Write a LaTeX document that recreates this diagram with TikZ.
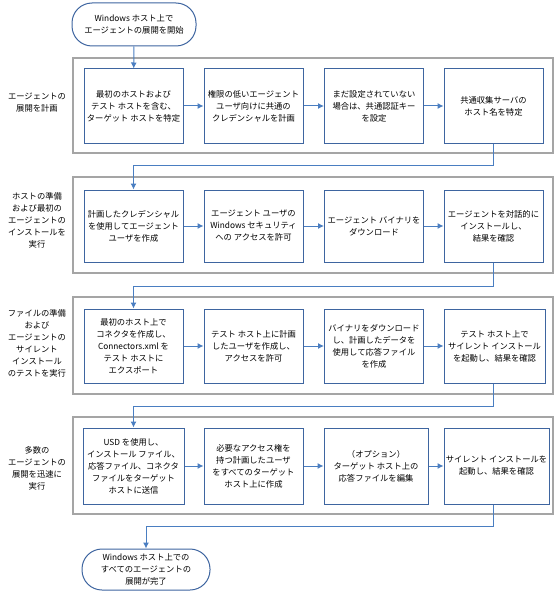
\documentclass[tikz,border=0pt]{standalone}
\usepackage{fontspec}
\setmainfont{Noto Sans CJK JP}
\usetikzlibrary{arrows.meta}

\definecolor{boxblue}{RGB}{62,101,160}
\definecolor{linkblue}{RGB}{74,126,193}
\definecolor{grpgray}{RGB}{165,165,165}

\tikzset{
  every node/.style={font=\fontsize{8.3}{12}\selectfont, align=center, inner sep=1pt},
  stepbox/.style={draw=boxblue, line width=1pt, fill=white, minimum width=99pt, minimum height=74pt},
  termbox/.style={draw=boxblue, line width=1pt, fill=white, rounded corners=20pt},
  grpbox/.style={draw=grpgray, line width=1.2pt},
  flow/.style={draw=linkblue, line width=1pt, -{Latex[length=6pt,width=6pt]}}
}

\begin{document}
\begin{tikzpicture}[x=1pt, y=-1pt]
            \useasboundingbox (0,0) rectangle (559,591);
            % groups
            \draw[grpbox] (73,58) rectangle (553,153);
            \draw[grpbox] (73,177) rectangle (553,273);
            \draw[grpbox] (73,297) rectangle (553,394);
            \draw[grpbox] (73,417) rectangle (553,514);
            \node (g1) at (37,103) {エージェントの\\展開を計画};
            \node (g2) at (37,220) {ホストの準備\\および最初の\\エージェントの\\インストールを\\実行};
            \node (g3) at (37,343) {ファイルの準備\\および\\エージェントの\\サイレント\\インストール\\のテストを実行};
            \node (g4) at (37,468) {多数の\\エージェントの\\展開を迅速に\\実行};
            % start and end
            \node[termbox, minimum width=124pt, minimum height=43pt] (start) at (134,24.5) {Windows ホスト上で\\エージェントの展開を開始};
            \node[termbox, minimum width=128pt, minimum height=41pt] (finish) at (146,569.5) {Windows ホスト上での\\すべてのエージェントの\\展開が完了};
            % row 1
            \node[stepbox] (p11) at (133.5,106) {最初のホストおよび\\テスト ホストを含む、\\ターゲット ホストを特定};
            \node[stepbox] (p12) at (253.5,106) {権限の低いエージェント\\ユーザ向けに共通の\\クレデンシャルを計画};
            \node[stepbox] (p13) at (374,106) {まだ設定されていない\\場合は、共通認証キー\\を設定};
            \node[stepbox] (p14) at (493.5,106) {共通収集サーバの\\ホスト名を特定};
            % row 2
            \node[stepbox, minimum height=72pt] (p21) at (133.5,226) {計画したクレデンシャル\\を使用してエージェント\\ユーザを作成};
            \node[stepbox, minimum height=72pt] (p22) at (253.5,226) {エージェント ユーザの\\Windows セキュリティ\\への アクセスを許可};
            \node[stepbox, minimum height=72pt] (p23) at (374,226) {エージェント バイナリを\\ダウンロード};
            \node[stepbox, minimum height=72pt] (p24) at (493.5,226) {エージェントを対話的に\\インストールし、\\結果を確認};
            % row 3
            \node[stepbox] (p31) at (133.5,346) {最初のホスト上で\\コネクタを作成し、\\Connectors.xml を\\テスト ホストに\\エクスポート};
            \node[stepbox] (p32) at (253.5,346) {テスト ホスト上に計画\\したユーザを作成し、\\アクセスを許可};
            \node[stepbox] (p33) at (374,346) {バイナリをダウンロード\\し、計画したデータを\\使用して応答ファイル\\を作成};
            \node[stepbox, minimum width=101pt] (p34) at (494.5,346) {テスト ホスト上で\\サイレント インストール\\を起動し、結果を確認};
            % row 4
            \node[stepbox, minimum width=101pt, minimum height=76pt] (p41) at (133.5,466) {USD を使用し、\\インストール ファイル、\\応答ファイル、コネクタ\\ファイルをターゲット\\ホストに送信};
            \node[stepbox, minimum width=99pt, minimum height=76pt] (p42) at (253.5,466) {必要なアクセス権を\\持つ計画したユーザ\\をすべてのターゲット\\ホスト上に作成};
            \node[stepbox, minimum width=104pt, minimum height=76pt] (p43) at (376,466) {（オプション）\\ターゲット ホスト上の\\応答ファイルを編集};
            \node[stepbox, minimum width=105pt, minimum height=76pt] (p44) at (496.5,466) {サイレント インストールを\\起動し、結果を確認};
            % turn points
            \coordinate (t1) at (133.5,165);
            \coordinate (t2) at (133.5,286);
            \coordinate (t3) at (133.5,406);
            \coordinate (t4) at (146,526);
            % connectors
            \draw[flow] (start) -- (p11);
            \draw[flow] (p11) -- (p12);
            \draw[flow] (p12) -- (p13);
            \draw[flow] (p13) -- (p14);
            \draw[flow] (p14.south) |- (t1) -- (p21.north);
            \draw[flow] (p21) -- (p22);
            \draw[flow] (p22) -- (p23);
            \draw[flow] (p23) -- (p24);
            \draw[flow] (p24.south) |- (t2) -- (p31.north);
            \draw[flow] (p31) -- (p32);
            \draw[flow] (p32) -- (p33);
            \draw[flow] (p33) -- (p34);
            \draw[flow] (p34.south -| p14.south) |- (t3) -- (p41.north);
            \draw[flow] (p41) -- (p42);
            \draw[flow] (p42) -- (p43);
            \draw[flow] (p43) -- (p44);
            \draw[flow] (p44.south -| p14.south) |- (t4) -- (finish.north);
        \end{tikzpicture}
\end{document}
